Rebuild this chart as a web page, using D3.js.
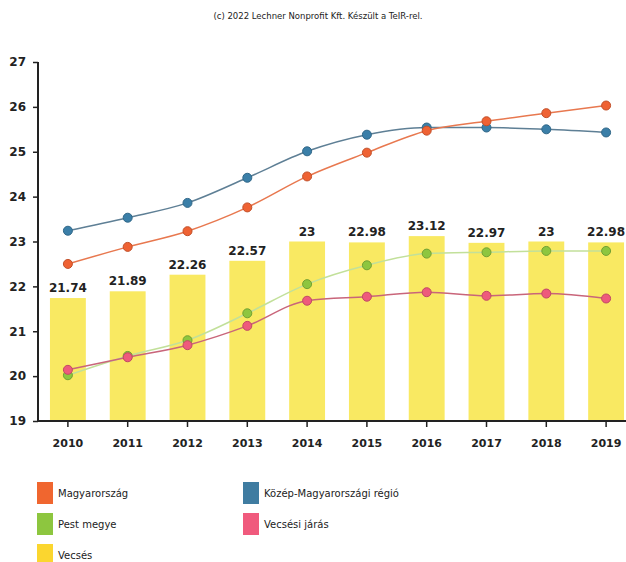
<!DOCTYPE html>
<html>
<head>
<meta charset="utf-8">
<script src="https://cdn.jsdelivr.net/npm/d3@7"></script>
<style>
  body { margin: 0; background: #fff; }
  svg { display: block; font-family: "DejaVu Sans", Verdana, sans-serif; }
</style>
</head>
<body>
<script>
// Data
const years = ["2010", "2011", "2012", "2013", "2014", "2015", "2016", "2017", "2018", "2019"];
const vecses = [21.74, 21.89, 22.26, 22.57, 23, 22.98, 23.12, 22.97, 23, 22.98];
const magyarorszag = [22.5, 22.88, 23.23, 23.76, 24.45, 24.98, 25.47, 25.68, 25.86, 26.03];
const kozepMagyar = [23.24, 23.53, 23.86, 24.42, 25.01, 25.38, 25.54, 25.54, 25.5, 25.43];
const pestMegye = [20.02, 20.45, 20.8, 21.4, 22.05, 22.47, 22.73, 22.76, 22.79, 22.79];
const vecsesiJaras = [20.14, 20.42, 20.69, 21.12, 21.68, 21.77, 21.87, 21.79, 21.84, 21.73];
const yTicks = [19, 20, 21, 22, 23, 24, 25, 26, 27];

const width = 626, height = 562;
const svg = d3.select("body").append("svg")
  .attr("width", width)
  .attr("height", height);

// Source note
svg.append("text")
  .attr("x", 318).attr("y", 19)
  .attr("text-anchor", "middle")
  .attr("font-size", 8.5)
  .attr("fill", "#222")
  .text("(c) 2022 Lechner Nonprofit Kft. Készült a TeIR-rel.");

const x = d3.scaleBand().domain(years).range([38, 636]).paddingInner(0.4).paddingOuter(0.2);
const y = d3.scaleLinear().domain([19, 27]).range([421, 62]);
const cx = d => x(d) + x.bandwidth() / 2;

// Bars (Vecsés)
svg.append("g").selectAll("rect")
  .data(years)
  .join("rect")
  .attr("x", d => x(d))
  .attr("width", x.bandwidth())
  .attr("y", (d, i) => y(vecses[i]))
  .attr("height", (d, i) => y(19) - y(vecses[i]))
  .attr("fill", "#f8e546")
  .attr("fill-opacity", 0.85);

svg.append("g").selectAll("text")
  .data(years)
  .join("text")
  .attr("x", d => cx(d))
  .attr("y", (d, i) => y(vecses[i]) - 6)
  .attr("text-anchor", "middle")
  .attr("font-size", 12)
  .attr("font-weight", "bold")
  .attr("fill", "#222")
  .text((d, i) => vecses[i]);

// Lines
const series = [
  {name: "Pest megye", values: pestMegye, color: "#8dc63f", line: "#c2e09a"},
  {name: "Vecsési járás", values: vecsesiJaras, color: "#ee5a7c", line: "#c9657a"},
  {name: "Közép-Magyarországi régió", values: kozepMagyar, color: "#3b7fa8", line: "#5e7f95"},
  {name: "Magyarország", values: magyarorszag, color: "#ef6233", line: "#e8784f"}
];

const line = d3.line()
  .x((d, i) => cx(years[i]))
  .y(d => y(d))
  .curve(d3.curveMonotoneX);

series.forEach(s => {
  const g = svg.append("g");
  g.append("path")
    .datum(s.values)
    .attr("d", line)
    .attr("fill", "none")
    .attr("stroke", s.line)
    .attr("stroke-width", 1.5);
  g.selectAll("circle")
    .data(s.values)
    .join("circle")
    .attr("cx", (d, i) => cx(years[i]))
    .attr("cy", d => y(d))
    .attr("r", 4.5)
    .attr("fill", s.color)
    .attr("stroke", d3.color(s.color).darker(0.6))
    .attr("stroke-width", 1);
});

// Axes
const yAxis = svg.append("g")
  .attr("transform", "translate(38,0)")
  .call(d3.axisLeft(y).tickValues(yTicks).tickSize(5).tickPadding(7).tickFormat(d3.format("d")));
yAxis.select(".domain").attr("stroke", "#222").attr("stroke-width", 2).attr("d", "M0,62V421");
yAxis.selectAll(".tick line").attr("stroke", "#222").attr("stroke-width", 1.5);
yAxis.selectAll(".tick text")
  .attr("font-size", 12).attr("font-weight", "bold").attr("fill", "#222")
  .attr("font-family", "DejaVu Sans, sans-serif");

const xAxis = svg.append("g")
  .attr("transform", "translate(0,421)")
  .call(d3.axisBottom(x).tickSize(6).tickPadding(12));
xAxis.select(".domain").attr("stroke", "#222").attr("stroke-width", 2).attr("d", "M38,0H626");
xAxis.selectAll(".tick line").attr("stroke", "#222").attr("stroke-width", 1.5);
xAxis.selectAll(".tick text")
  .attr("font-size", 11).attr("font-weight", "bold").attr("fill", "#222")
  .attr("font-family", "DejaVu Sans, sans-serif");

// Legend
const legend = [
  {name: "Magyarország", color: "#f0662f", col: 0, row: 0},
  {name: "Közép-Magyarországi régió", color: "#3f7ca1", col: 1, row: 0},
  {name: "Pest megye", color: "#8dc63f", col: 0, row: 1},
  {name: "Vecsési járás", color: "#f05a7d", col: 1, row: 1},
  {name: "Vecsés", color: "#fbd62f", col: 0, row: 2}
];
const lg = svg.append("g").selectAll("g")
  .data(legend)
  .join("g")
  .attr("transform", d => `translate(${d.col ? 243 : 37},${482 + d.row * 31})`);
lg.append("rect")
  .attr("width", 16).attr("height", 22)
  .attr("fill", d => d.color);
lg.append("text")
  .attr("x", 21).attr("y", 15)
  .attr("font-size", 10)
  .attr("fill", "#222")
  .text(d => d.name);
</script>
</body>
</html>
